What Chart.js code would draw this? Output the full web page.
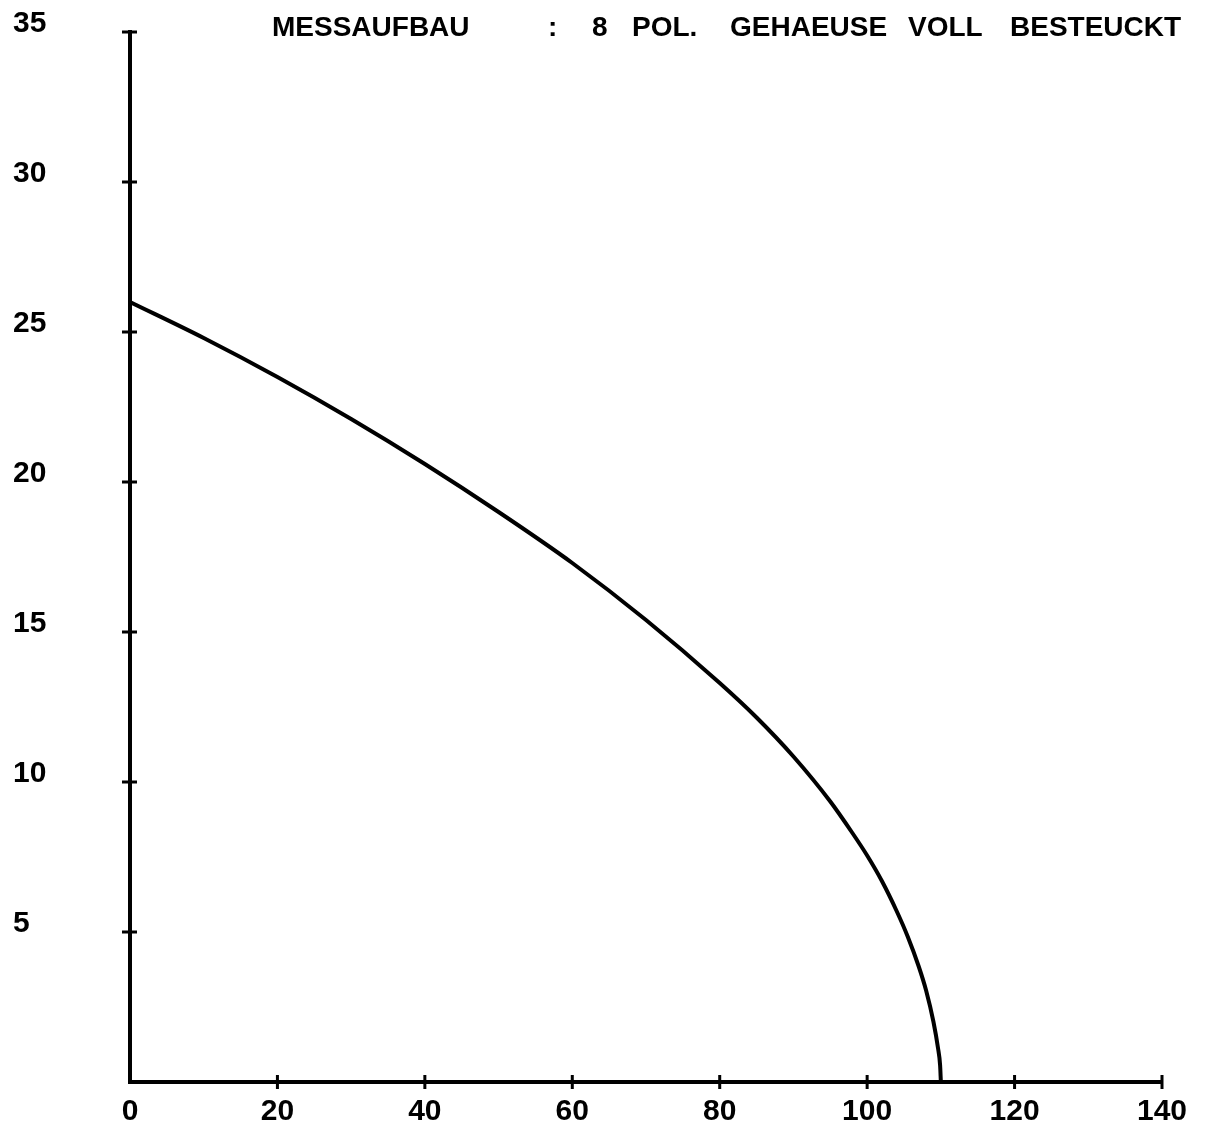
<!DOCTYPE html>
<html>
    <head>
        <meta charset="utf-8">
        <title>Messaufbau</title>
        <script src="https://cdn.jsdelivr.net/npm/chart.js@4/dist/chart.umd.min.js"></script>
    </head>
    <style>
        body {
            margin: 0;
            background: #ffffff;
        }
        #kurve {
            display: block;
        }
    </style>
    <body>
        <canvas id="kurve" width="1213" height="1131"></canvas>
        <script>
        // Messkurve
        const xWerte = [0, 10, 20, 30, 40, 50, 60, 70, 80, 85, 90, 95, 98, 100, 102, 104, 105.5, 107, 108, 109, 109.6, 109.9, 110];
        const yWerte = [26.0, 24.8, 23.5, 22.1, 20.6, 19.0, 17.3, 15.4, 13.3, 12.15, 10.85, 9.35, 8.3, 7.55, 6.7, 5.7, 4.85, 3.85, 3.05, 2.0, 1.15, 0.55, 0];

        const xTicks = [0, 20, 40, 60, 80, 100, 120, 140];
        const yTicks = [0, 5, 10, 15, 20, 25, 30, 35];

        // Kopfzeile, Wort fuer Wort wie vom Plotter gesetzt
        const titelWorte = ["MESSAUFBAU", ":", "8", "POL.", "GEHAEUSE", "VOLL", "BESTEUCKT"];
        const titelX = [272, 548, 592, 632, 730, 908, 1010];

        const schrift = "'Liberation Sans', Arial, sans-serif";

        // kurze Striche quer über die Achsen
        const achsStriche = {
            id: 'achsStriche',
            afterDraw(chart) {
                const ctx = chart.ctx;
                const xs = chart.scales.x;
                const ys = chart.scales.y;
                ctx.save();
                ctx.strokeStyle = '#000';
                ctx.lineWidth = 3;
                ctx.beginPath();
                xTicks.forEach(v => {
                    if (v === 0) return;
                    const px = xs.getPixelForValue(v);
                    ctx.moveTo(px, ys.bottom - 7);
                    ctx.lineTo(px, ys.bottom + 7);
                });
                yTicks.forEach(v => {
                    if (v === 0) return;
                    const py = ys.getPixelForValue(v);
                    ctx.moveTo(xs.left - 8, py);
                    ctx.lineTo(xs.left + 7, py);
                });
                ctx.stroke();

                ctx.fillStyle = '#000';
                ctx.font = "bold 28px " + schrift;
                ctx.textBaseline = 'alphabetic';
                ctx.textAlign = 'left';
                titelWorte.forEach((w, i) => ctx.fillText(w, titelX[i], 36));
                ctx.restore();
            }
        };

        document.addEventListener("DOMContentLoaded", function () {
            const ctx = document.getElementById('kurve').getContext('2d');
            new Chart(ctx, {
                type: 'line',
                data: {
                    datasets: [{
                        data: xWerte.map((x, i) => ({ x: x, y: yWerte[i] })),
                        borderColor: '#000',
                        borderWidth: 4,
                        pointRadius: 0,
                        fill: false,
                        cubicInterpolationMode: 'monotone'
                    }]
                },
                options: {
                    responsive: false,
                    animation: false,
                    layout: {
                        padding: { left: 13, right: 51, top: 32, bottom: 0 }
                    },
                    plugins: {
                        legend: { display: false },
                        tooltip: { enabled: false }
                    },
                    scales: {
                        x: {
                            type: 'linear',
                            min: 0,
                            max: 140,
                            afterFit: s => { s.height = 49; },
                            afterBuildTicks: s => { s.ticks = xTicks.map(v => ({ value: v })); },
                            grid: { display: false },
                            border: { display: true, color: '#000', width: 4 },
                            ticks: {
                                color: '#000',
                                padding: 4,
                                maxRotation: 0,
                                font: { family: schrift, size: 30, weight: 'bold' }
                            }
                        },
                        y: {
                            type: 'linear',
                            min: 0,
                            max: 35,
                            afterFit: s => { s.width = 117; },
                            afterBuildTicks: s => { s.ticks = yTicks.map(v => ({ value: v })); },
                            grid: { display: false },
                            border: { display: true, color: '#000', width: 4 },
                            ticks: {
                                color: '#000',
                                crossAlign: 'far',
                                labelOffset: -8,
                                font: { family: schrift, size: 30, weight: 'bold' },
                                callback: v => (v === 0 ? '' : v)
                            }
                        }
                    }
                },
                plugins: [achsStriche]
            });
        });
        </script>
    </body>
</html>
